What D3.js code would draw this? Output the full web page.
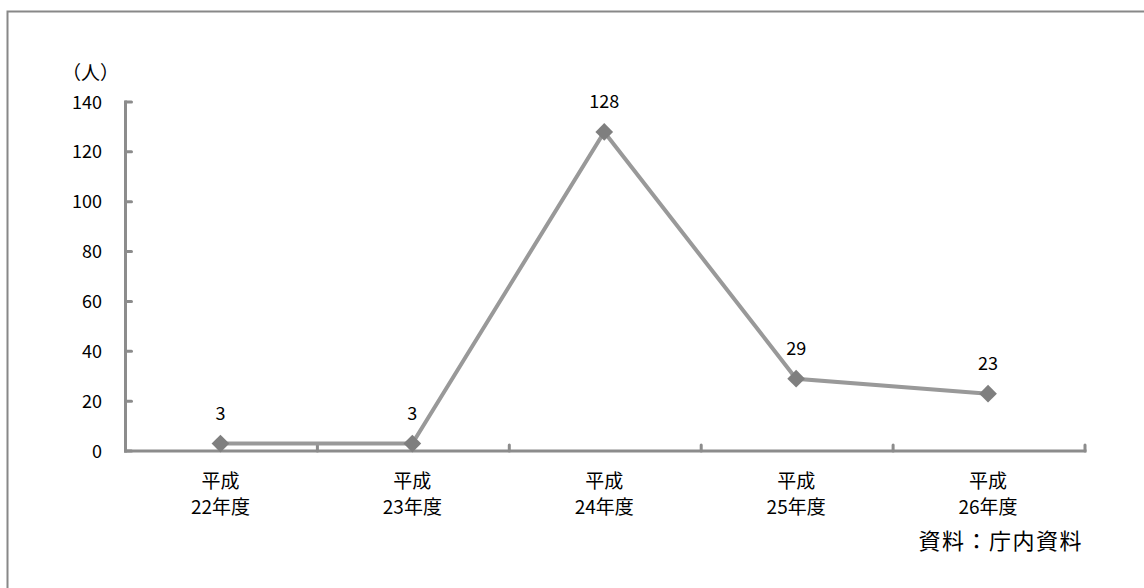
<!DOCTYPE html>
<html><head><meta charset="utf-8">
<script src="https://cdn.jsdelivr.net/npm/d3@7"></script>
<style>body{margin:0;background:#fff}svg{display:block}text{font-family:"Noto Sans CJK JP","Noto Sans",sans-serif;fill:#000}</style>
</head><body><svg id="c" width="1144" height="588"></svg>
<script>
const categories = [["平成","22年度"],["平成","23年度"],["平成","24年度"],["平成","25年度"],["平成","26年度"]];
const values = [3, 3, 128, 29, 23];
const yTicks = [0, 20, 40, 60, 80, 100, 120, 140];
const unitLabel = "（人）";
const sourceLabel = "資料：庁内資料";

const svg = d3.select("#c");
svg.append("rect").attr("x",7.5).attr("y",11.5).attr("width",1200).attr("height",700)
  .attr("fill","none").attr("stroke","#888").attr("stroke-width",2);

const x0 = 125.5, x1 = 1085, yb = 451, yt = 102;
const x = d3.scaleBand().domain(categories.map((d,i)=>i)).range([x0,x1]);
const y = d3.scaleLinear().domain([0,140]).range([yb,yt]);
const axisCol = "#8c8c8c";

// y axis
const yAx = svg.append("g");
yAx.append("line").attr("x1",x0).attr("x2",x0).attr("y1",y(140)-1.5).attr("y2",yb+1.5)
  .attr("stroke",axisCol).attr("stroke-width",3);
yAx.selectAll("line.t").data(yTicks).join("line").attr("class","t")
  .attr("x1",x0).attr("x2",x0+6).attr("y1",d=>y(d)).attr("y2",d=>y(d))
  .attr("stroke",axisCol).attr("stroke-width",3).attr("stroke-linecap","round");
yAx.selectAll("text").data(yTicks).join("text")
  .attr("x",102).attr("y",d=>y(d)+6.5).attr("text-anchor","end")
  .attr("font-size",18).text(d=>d);

// x axis
svg.append("line").attr("x1",x0-1.5).attr("x2",x1+1.5).attr("y1",yb).attr("y2",yb)
  .attr("stroke",axisCol).attr("stroke-width",3);
svg.selectAll("line.xt").data(categories.map((d,i)=>i)).join("line").attr("class","xt")
  .attr("x1",d=>x(d)+x.bandwidth()).attr("x2",d=>x(d)+x.bandwidth())
  .attr("y1",yb).attr("y2",yb-6).attr("stroke",axisCol).attr("stroke-width",3).attr("stroke-linecap","round");
const cl = svg.selectAll("text.cat").data(categories).join("text").attr("class","cat")
  .attr("text-anchor","middle").attr("font-size",19);
cl.append("tspan").attr("x",(d,i)=>x(i)+x.bandwidth()/2 - 1).attr("y",488).text(d=>d[0]);
cl.append("tspan").attr("x",(d,i)=>x(i)+x.bandwidth()/2 - 1).attr("y",514).text(d=>d[1]);

// line
const cx = i => x(i)+x.bandwidth()/2 - 1;
svg.append("path").datum(values)
  .attr("d", d3.line().x((d,i)=>cx(i)).y(d=>y(d)))
  .attr("fill","none").attr("stroke","#999").attr("stroke-width",4);
svg.selectAll("path.m").data(values).join("path").attr("class","m")
  .attr("d", d3.symbol(d3.symbolDiamond2, 200))
  .attr("transform",(d,i)=>`translate(${cx(i)},${y(d)})`)
  .attr("fill","#7f7f7f");
svg.selectAll("text.v").data(values).join("text").attr("class","v")
  .attr("x",(d,i)=>cx(i)).attr("y",d=>y(d)-23.5).attr("text-anchor","middle")
  .attr("font-size",18).text(d=>d);

svg.append("text").attr("x",62).attr("y",80).attr("font-size",19).text(unitLabel);
svg.append("text").attr("x",1083).attr("y",549).attr("text-anchor","end").attr("font-size",22)
  .attr("letter-spacing",1.5).text(sourceLabel);
</script></body></html>
